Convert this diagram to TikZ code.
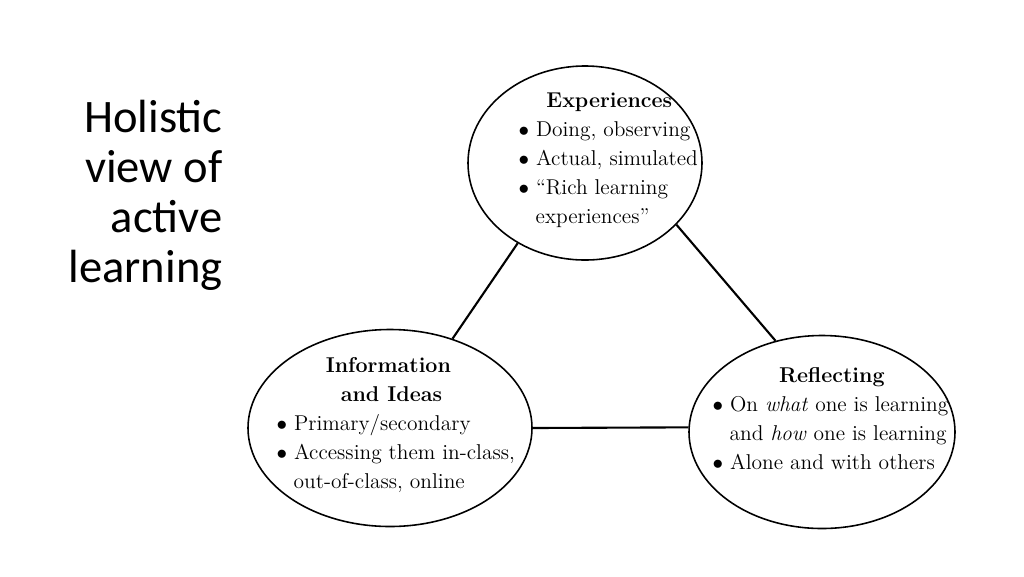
\documentclass[tikz,border=0pt]{standalone}
\usepackage{fontspec}
\newfontfamily\titlefont{Carlito}
\usetikzlibrary{shapes.geometric}
\begin{document}
\begin{tikzpicture}[x=0.02cm,y=-0.02cm,thick]

    \tikzset{bubble/.style={%
      draw,%
      ellipse,%
      inner sep=0pt,%
      line width=0.9pt}%
    };
    \tikzset{bubbletext/.style={align=left,font=\fontsize{12.2}{16.5}\selectfont}};

    \useasboundingbox (0,0) rectangle (1024,576);

    %%%%%%%%%%%%%%%
    %    title    %
    %%%%%%%%%%%%%%%
    \node [align=right, anchor=east, font=\titlefont\fontsize{26.5}{28.5}\selectfont] (ttl) at (229,195)
      {Holistic\\view of\\active\\learning};

    %%%%%%%%%%%%%%%
    %   bubbles   %
    %%%%%%%%%%%%%%%
    \node [bubble, minimum width=234*0.02cm, minimum height=194*0.02cm] (exp) at (585,163) {};
    \node [bubble, minimum width=284*0.02cm, minimum height=197*0.02cm] (inf) at (390,428) {};
    \node [bubble, minimum width=266*0.02cm, minimum height=193*0.02cm] (ref) at (822,432) {};

    \node [bubbletext, anchor=north west] (exptxt) at (512,86)
      {\hspace*{1.3em}\textbf{Experiences}\\
       $\bullet$ Doing, observing\\
       $\bullet$ Actual, simulated\\
       $\bullet$ ``Rich learning\\
       \hspace*{0.8em}experiences''};
    \node [bubbletext, anchor=north west] (inftxt) at (270,351)
      {\hspace*{2.3em}\textbf{Information}\\
       \hspace*{3.0em}\textbf{and Ideas}\\
       $\bullet$ Primary/secondary\\
       $\bullet$ Accessing them in-class,\\
       \hspace*{0.8em}out-of-class, online};
    \node [bubbletext, anchor=north west] (reftxt) at (706,361)
      {\hspace*{3.1em}\textbf{Reflecting}\\
       $\bullet$ On \emph{what} one is learning\\
       \hspace*{0.8em}and \emph{how} one is learning\\
       $\bullet$ Alone and with others};

    \draw [line width=1.2pt] (exp.-130) -- (inf.55);
    \draw [line width=1.2pt] (exp.-34) -- (ref.117);
    \draw [line width=1.2pt] (inf.0) -- (ref.178);

  \end{tikzpicture}
\end{document}
